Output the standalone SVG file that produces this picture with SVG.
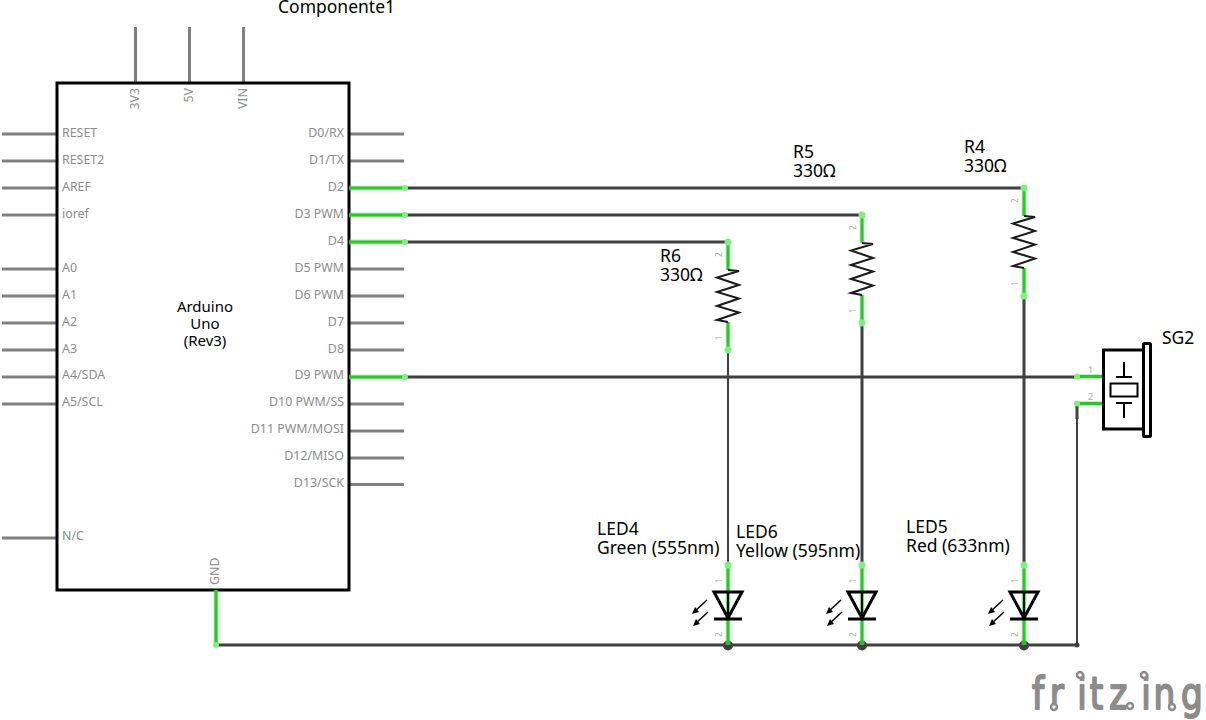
<svg xmlns="http://www.w3.org/2000/svg" width="1206" height="720" viewBox="0 0 1206 720">
<style>
text{font-family:"Noto Sans","Open Sans","DejaVu Sans",sans-serif}
.t{font-size:17.500px;fill:#000}
.a{font-size:15px;fill:#000;text-anchor:middle}
.p{font-size:12.400px;fill:#8c8c8c}
.e{text-anchor:end}
.n{font-size:8px;fill:#aaa}
.pin{stroke:#808080;stroke-width:3;fill:none}
.w{stroke:#404040;stroke-width:3;fill:none}
.g{stroke:#2fc42f;stroke-width:3;fill:none}
.gh{stroke:#5fe85f;stroke-opacity:.45;stroke-width:5;fill:none}
.d{fill:#7ff07f}
.k{stroke:#000;stroke-width:3;fill:none}
.k2{stroke:#000;stroke-width:2;fill:none}
.j{fill:#404040}
.ring{fill:#fff;stroke:#8c8c8c;stroke-width:2.500}
</style>
<defs>
<g id="res"><path class="gh" d="M0 0V28M0 80V108"/><path class="g" d="M0 0V28M0 80V108"/><circle class="d" cy="0" r="3.500"/><circle class="d" cy="108" r="3.500"/><path d="M0 28L11 29L-11 35.500L11 43L-11 50L11 56.500L-11 64L11 70.500L-11 78L0 80" stroke="#1a1a1a" stroke-width="2" fill="none"/><text class="n" transform="translate(-6 15) rotate(-90)">2</text><text class="n" transform="translate(-6 98) rotate(-90)">1</text></g>
<g id="led"><path class="gh" d="M0 0V80"/><path class="g" d="M0 0V80"/><circle class="d" r="3.500"/><path class="k" d="M-14 27H14L0 53ZM-14 54H14"/><path class="k2" d="M0 27V53"/><path d="M-21 35L-34 47M-20 47L-33 59" stroke="#000" stroke-width="1.500"/><path d="M-36 49L-33 42L-29 47ZM-35 61L-32 54L-28 59Z" fill="#000"/><text class="n" transform="translate(-6 18) rotate(-90)">1</text><text class="n" transform="translate(-6 72) rotate(-90)">2</text></g>
</defs>
<rect width="1206" height="720" fill="#fff"/>
<g id="connectors">
<path class="w" d="M404 188H1024M404 215H862M404 242H728M404 377H1078M216 645H1077"/>
<path class="w" d="M862 323V565M1024 296V565"/>
<path stroke="#404040" stroke-width="2" fill="none" d="M728 350V565M1077 403V645"/>
<path class="w" d="M1077 403V419"/>
<circle class="j" cx="728" cy="645.500" r="5"/><circle class="j" cx="862" cy="645.500" r="5"/><circle class="j" cx="1024" cy="645.500" r="5"/><circle class="j" cx="1077" cy="645" r="2.500"/>
</g>
<g id="Componente1">
<text class="t" x="278" y="13">Componente1</text>
<path class="pin" d="M135.500 27V83M189.500 27V83M243.500 27V83"/>
<path class="pin" d="M2 134H57M2 161H57M2 188H57M2 215H57M2 269H57M2 296H57M2 323H57M2 350H57M2 377H57M2 404H57M2 538H57"/>
<path class="pin" d="M349 134H404M349 161H404M349 269H404M349 296H404M349 323H404M349 350H404M349 404H404M349 431H404M349 458H404M349 484.500H404"/>
<rect x="57" y="83" width="292" height="507" fill="none" stroke="#000" stroke-width="3"/>
<path class="gh" d="M349 188H404M349 215H404M349 242H404M349 377H404M216 590V645"/>
<path class="g" d="M349 188H404M349 215H404M349 242H404M349 377H404M216 590V645"/>
<circle class="d" cx="405" cy="188" r="3"/><circle class="d" cx="405" cy="215" r="3"/><circle class="d" cx="405" cy="242" r="3"/><circle class="d" cx="405" cy="377" r="3"/><circle class="d" cx="216" cy="645" r="3"/>
<g>
<text class="p" x="62" y="137">RESET</text><text class="p" x="62" y="164">RESET2</text><text class="p" x="62" y="191">AREF</text><text class="p" x="62" y="218">ioref</text><text class="p" x="62" y="272">A0</text><text class="p" x="62" y="299">A1</text><text class="p" x="62" y="326">A2</text><text class="p" x="62" y="353">A3</text><text class="p" x="62" y="379">A4/SDA</text><text class="p" x="62" y="406">A5/SCL</text><text class="p" x="62" y="540">N/C</text>
<text class="p e" x="344" y="137">D0/RX</text><text class="p e" x="344" y="164">D1/TX</text><text class="p e" x="344" y="191">D2</text><text class="p e" x="344" y="218">D3 PWM</text><text class="p e" x="344" y="245">D4</text><text class="p e" x="344" y="272">D5 PWM</text><text class="p e" x="344" y="299">D6 PWM</text><text class="p e" x="344" y="326">D7</text><text class="p e" x="344" y="353">D8</text><text class="p e" x="344" y="379">D9 PWM</text><text class="p e" x="344" y="406">D10 PWM/SS</text><text class="p e" x="344" y="433">D11 PWM/MOSI</text><text class="p e" x="344" y="460">D12/MISO</text><text class="p e" x="344" y="487">D13/SCK</text>
<text class="p e" transform="translate(139 88) rotate(-90)">3V3</text><text class="p e" transform="translate(193 88) rotate(-90)">5V</text><text class="p e" transform="translate(247 88) rotate(-90)">VIN</text>
<text class="p" transform="translate(219 585) rotate(-90)">GND</text>
</g>
<text class="a" x="205" y="312">Arduino</text><text class="a" x="205" y="329">Uno</text><text class="a" x="205" y="346">(Rev3)</text>
</g>
<g id="R6"><use href="#res" x="728" y="242"/><text class="t" x="660" y="262">R6</text><text class="t" x="660" y="281">330Ω</text></g>
<g id="R5"><use href="#res" x="862" y="215"/><text class="t" x="793" y="158">R5</text><text class="t" x="793" y="177">330Ω</text></g>
<g id="R4"><use href="#res" x="1024" y="188"/><text class="t" x="964" y="153">R4</text><text class="t" x="964" y="172">330Ω</text></g>
<g id="LED4"><use href="#led" x="728" y="565"/><text class="t" x="597" y="535">LED4</text><text class="t" x="597" y="554">Green (555nm)</text></g>
<g id="LED6"><use href="#led" x="862" y="565"/><text class="t" x="736" y="538">LED6</text><text class="t" x="736" y="557">Yellow (595nm)</text></g>
<g id="LED5"><use href="#led" x="1024" y="565"/><text class="t" x="906" y="533">LED5</text><text class="t" x="906" y="552">Red (633nm)</text></g>
<g id="SG2">
<text class="t" x="1162" y="344">SG2</text>
<path class="gh" d="M1077 376.500H1103M1077 403.500H1103"/><path class="g" d="M1077 376.500H1103M1077 403.500H1103"/>
<circle class="d" cx="1077" cy="376.500" r="3"/><circle class="d" cx="1077" cy="403.500" r="3"/>
<rect x="1103.500" y="350" width="40" height="79" fill="none" stroke="#000" stroke-width="3"/>
<rect x="1143.500" y="343.500" width="7" height="93" rx="1" fill="#fff" stroke="#000" stroke-width="3"/>
<rect x="1110.500" y="383.500" width="27" height="13" fill="none" stroke="#000" stroke-width="2"/>
<path class="k2" d="M1116 377H1132M1124 362V377M1116 403H1132M1124 403V418"/>
<text class="n" style="font-size:9px" x="1088" y="373">1</text><text class="n" style="font-size:9px" x="1088" y="400">2</text>
</g>
<g id="logo">
<text transform="translate(0 709) scale(.78 1)" x="1323 1346 1381 1397 1422 1463 1479 1514" y="0" style="font-family:'DejaVu Sans',sans-serif;font-size:44px" fill="#8c8c8c" stroke="#8c8c8c" stroke-width="2" stroke-linejoin="round">fritzing</text>
<circle class="ring" cx="1080" cy="675" r="3"/><circle class="ring" cx="1144" cy="675" r="3"/><circle class="ring" cx="1054" cy="707" r="3"/><circle class="ring" cx="1130" cy="706" r="3"/><circle class="ring" cx="1172" cy="707" r="3"/>
</g>
</svg>
